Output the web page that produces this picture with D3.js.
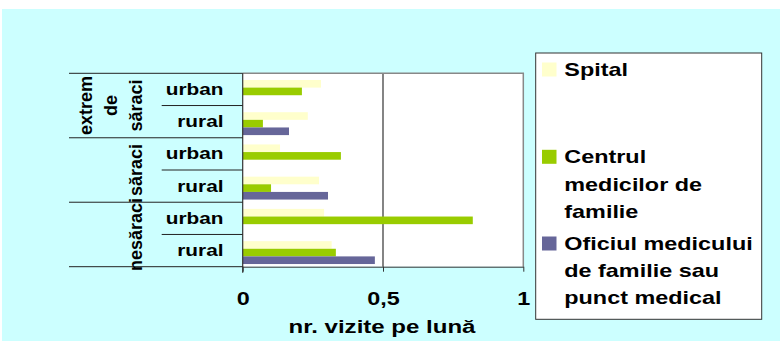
<!DOCTYPE html>
<html>
<head>
<meta charset="utf-8">
<script src="https://cdn.jsdelivr.net/npm/d3@7"></script>
<style>
  html, body { margin: 0; padding: 0; background: #ffffff; }
  svg { display: block; }
  text { font-family: "Liberation Sans", Arial, sans-serif; font-weight: bold; fill: #000; }
</style>
</head>
<body>
<svg id="chart" width="780" height="341"></svg>
<script>
// ---- data ----
const rowLabels = ["urban", "rural", "urban", "rural", "urban", "rural"];
const groupLabels = [["extrem", "de", "săraci"], ["săraci"], ["nesăraci"]];
const groupSizes = [2, 2, 2];
const seriesNames = ["Spital", "Centrul medicilor de familie", "Oficiul medicului de familie sau punct medical"];
const legendLines = [["Spital"], ["Centrul", "medicilor de", "familie"], ["Oficiul medicului", "de familie sau", "punct medical"]];
const spital  = [0.279, 0.232, 0.133, 0.272, 0.290, 0.317];
const centrul = [0.211, 0.072, 0.350, 0.101, 0.820, 0.332];
const oficiul = [null, 0.165, null, 0.304, null, 0.471];
const tickValues = [0, 0.5, 1];
const tickLabels = ["0", "0,5", "1"];
const axisTitle = "nr. vizite pe lună";
const colors = ["#FFFFCC", "#99CC00", "#666699"];

// ---- layout ----
const SX = 1.3;
const svg = d3.select("#chart");
svg.append("rect").attr("x", 0).attr("y", 0).attr("width", 780).attr("height", 341).attr("fill", "#ffffff");
svg.append("rect").attr("x", 2).attr("y", 9).attr("width", 778).attr("height", 332).attr("fill", "#CCFFFF");

const plot = { left: 242.7, right: 523.3, top: 73.3, bottom: 266.7 };
const x = d3.scaleLinear().domain([0, 1]).range([plot.left, plot.right]);
const rows = d3.scaleBand().domain(d3.range(rowLabels.length)).range([plot.top, plot.bottom]);
const y = d3.scaleBand().domain(d3.range(rowLabels.length)).range([plot.top + 2, plot.bottom + 2])
  .paddingInner(0.29).paddingOuter(0.145);
const sub = d3.scaleBand().domain([0, 1, 2]).range([0, y.bandwidth()]);

// plot area
svg.append("rect").attr("x", plot.left).attr("y", plot.top)
  .attr("width", plot.right - plot.left).attr("height", plot.bottom - plot.top).attr("fill", "#ffffff");

// gridline at 0.5
svg.append("line").attr("x1", x(0.5)).attr("x2", x(0.5)).attr("y1", plot.top).attr("y2", plot.bottom)
  .attr("stroke", "#333").attr("stroke-width", 1.2);

// bars
const series = [spital, centrul, oficiul];
series.forEach((vals, si) => {
  svg.append("g").selectAll("rect").data(vals.map((v, i) => ({ v, i })).filter(d => d.v != null))
    .join("rect")
    .attr("x", x(0))
    .attr("y", d => y(d.i) + sub(si))
    .attr("width", d => x(d.v) - x(0))
    .attr("height", sub.bandwidth())
    .attr("fill", colors[si]);
});

// plot border (top/right)
svg.append("path")
  .attr("d", `M${plot.left},${plot.top}H${plot.right}V${plot.bottom}`)
  .attr("fill", "none").attr("stroke", "#888").attr("stroke-width", 1.5);

// bottom axis
const xAxis = d3.axisBottom(x).tickValues(tickValues).tickFormat((d, i) => tickLabels[i])
  .tickSize(5).tickSizeOuter(0);
const gx = svg.append("g").attr("transform", `translate(0,${plot.bottom})`).call(xAxis);
gx.select(".domain").attr("stroke", "#333");
gx.selectAll(".tick line").attr("stroke", "#333");
gx.selectAll(".tick text")
  .attr("dy", null).attr("y", 38.3)
  .attr("transform", `scale(${SX},1)`)
  .style("font-family", "'Liberation Sans', Arial, sans-serif")
  .style("font-weight", "bold").style("font-size", "18px").attr("fill", "#000");

// left axis line
svg.append("line").attr("x1", plot.left).attr("x2", plot.left).attr("y1", plot.top).attr("y2", plot.bottom + 6)
  .attr("stroke", "#333").attr("stroke-width", 1.2);

// axis title
svg.append("text").attr("transform", `translate(${(plot.left + plot.right) / 2 - 1},333) scale(${SX},1)`)
  .attr("text-anchor", "middle").style("font-size", "18.5px").text(axisTitle);

// row label separators & labels
const groupLineX = 69, rowLineX = 161.7;
rowLabels.forEach((lab, i) => {
  svg.append("text")
    .attr("transform", `translate(223.5,${rows(i) + rows.bandwidth() / 2 + 5.6}) scale(${SX},1)`)
    .attr("text-anchor", "end").style("font-size", "16px").text(lab);
});
let start = 0;
const bounds = [0];
groupSizes.forEach(n => { start += n; bounds.push(start); });
// inner lines
d3.range(rowLabels.length + 1).forEach(i => {
  if (bounds.includes(i)) return;
  const yy = plot.top + i * rows.step();
  svg.append("line").attr("x1", rowLineX).attr("x2", plot.left).attr("y1", yy).attr("y2", yy)
    .attr("stroke", "#222").attr("stroke-width", 1);
});
bounds.forEach(b => {
  const yy = plot.top + b * rows.step();
  svg.append("line").attr("x1", groupLineX).attr("x2", plot.left).attr("y1", yy).attr("y2", yy)
    .attr("stroke", "#222").attr("stroke-width", 1);
});
// group labels (rotated)
groupLabels.forEach((lines, gi) => {
  const cy = plot.top + (bounds[gi] + bounds[gi + 1]) / 2 * rows.step();
  const n = lines.length;
  lines.forEach((ln, li) => {
    const bx = 141.7 - (n - 1 - li) * 24.9;
    svg.append("text")
      .attr("transform", `translate(${bx},${cy}) rotate(-90)`)
      .attr("text-anchor", "middle").style("font-size", "18px").text(ln);
  });
});

// legend
const lg = { x: 535.7, y: 53, w: 226, h: 266.3 };
svg.append("rect").attr("x", lg.x).attr("y", lg.y).attr("width", lg.w).attr("height", lg.h)
  .attr("fill", "#fff").attr("stroke", "#333").attr("stroke-width", 1);
const legendFirstBaseline = [76, 163.3, 250];
const lineH = 27.2;
seriesNames.forEach((name, si) => {
  const b = legendFirstBaseline[si];
  svg.append("rect").attr("x", 542).attr("y", b - 13.5).attr("width", 14.5).attr("height", 14)
    .attr("fill", colors[si]);
  legendLines[si].forEach((ln, li) => {
    svg.append("text")
      .attr("transform", `translate(564.3,${b + li * lineH}) scale(${SX},1)`)
      .style("font-size", "18px").text(ln);
  });
});
</script>
</body>
</html>
